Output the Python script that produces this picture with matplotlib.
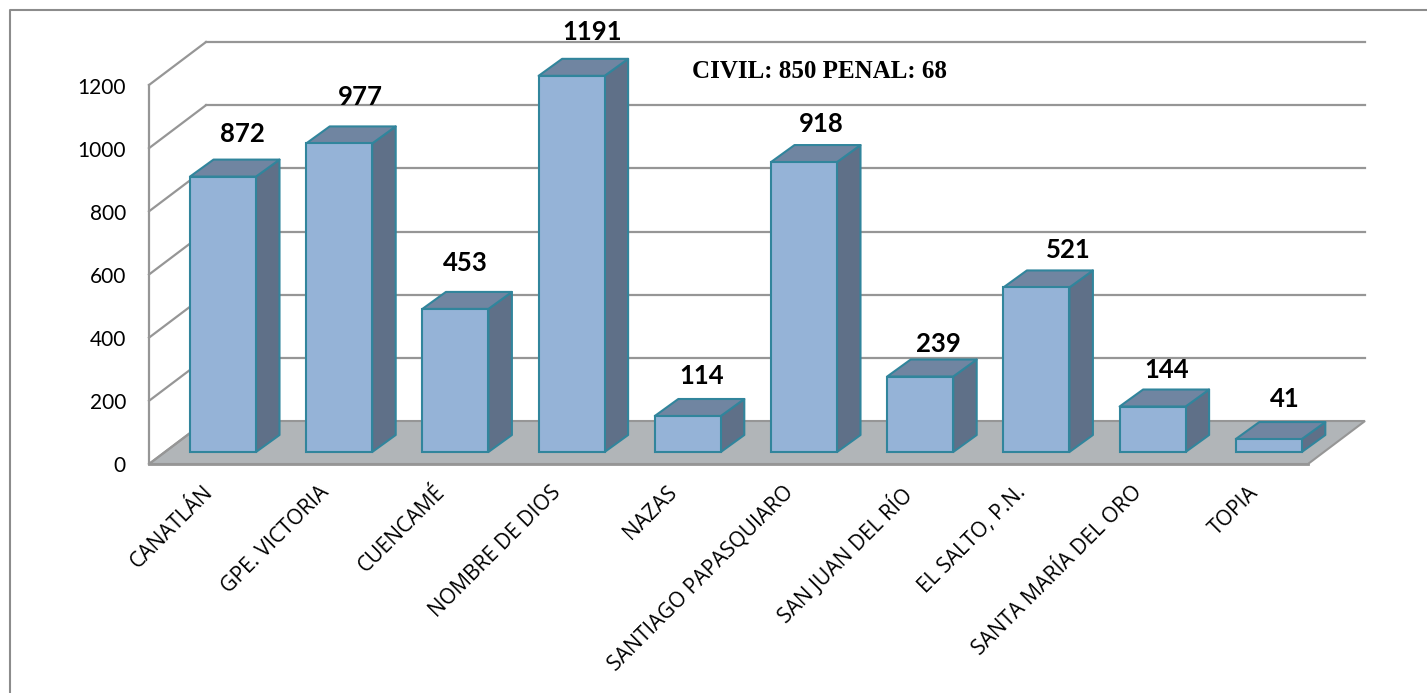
import matplotlib
matplotlib.use("Agg")
import matplotlib.pyplot as plt
from matplotlib.patches import Polygon, Rectangle

categories = ["CANATLÁN", "GPE. VICTORIA", "CUENCAMÉ", "NOMBRE DE DIOS", "NAZAS",
              "SANTIAGO PAPASQUIARO", "SAN JUAN DEL RÍO", "EL SALTO, P.N.",
              "SANTA MARÍA DEL ORO", "TOPIA"]
values = [872, 977, 453, 1191, 114, 918, 239, 521, 144, 41]
y_ticks = [0, 200, 400, 600, 800, 1000, 1200]
note = "CIVIL: 850 PENAL: 68"

# value labels were placed by hand in the original, offsets from bar corner
label_dx = [52, 54, 43, 54, 47, 50, 51, 65, 47, 49]
label_dy = [43, 46, 46, 44, 40, 38, 33, 37, 37, 40]

W, H = 1427, 693
PX_PER_UNIT = 379 / 1200
SLOT = 116.2

# offsets of the fake 3d box, in pixels
WALL_DX, WALL_DY = 57, 43
BAR_W = 66
BAR_DX, BAR_DY = 23.5, 17
LEFT, BASE = 149, 464
RIGHT = 1308

FACE = "#95b3d7"
TOP = "#7085a1"
SIDE = "#5f7088"
EDGE = "#31859c"
GRID = "#969696"


def ypx(v):
    return BASE - v * PX_PER_UNIT


fig = plt.figure(figsize=(W / 100, H / 100), dpi=100)
ax = fig.add_axes([0, 0, 1, 1])
ax.set_xlim(0, W)
ax.set_ylim(H, 0)
ax.axis("off")
plt.rcParams["font.family"] = ["Lato", "DejaVu Sans"]

# image is cropped, only the top and left sides of the frame show
ax.plot([9.5, 9.5, W], [H, 10, 10], color="#8c8c8c", lw=1.5)

# floor
ax.add_patch(Polygon([(LEFT, BASE), (LEFT + WALL_DX, BASE - WALL_DY),
                      (RIGHT + WALL_DX, BASE - WALL_DY), (RIGHT, BASE)],
                     fc="#b1b5b8", ec=GRID, lw=1.5, zorder=1))
# grid lines on wall and side
for t in y_ticks:
    y = ypx(t)
    ax.plot([LEFT, LEFT + WALL_DX], [y, y - WALL_DY], color=GRID, lw=1.6, zorder=2)
    if t > 0:
        ax.plot([LEFT + WALL_DX, RIGHT + WALL_DX], [y - WALL_DY, y - WALL_DY],
                color=GRID, lw=1.6, zorder=2)
    ax.text(126, y + 2.5, str(t), ha="right", va="center", fontsize=15, color="black")
ax.plot([LEFT, LEFT], [ypx(0), ypx(1200)], color=GRID, lw=1.6, zorder=2)
ax.plot([LEFT, RIGHT], [BASE, BASE], color=GRID, lw=2, zorder=2)

# bars
for i, (name, v) in enumerate(zip(categories, values)):
    x0 = 190 + i * SLOT
    x1 = x0 + BAR_W
    bottom = BASE - 12
    top = bottom - v * PX_PER_UNIT
    z = 3 + i
    ax.add_patch(Polygon([(x1, bottom), (x1 + BAR_DX, bottom - BAR_DY),
                          (x1 + BAR_DX, top - BAR_DY), (x1, top)],
                         fc=SIDE, ec=EDGE, lw=1.5, zorder=z, joinstyle="round"))
    ax.add_patch(Polygon([(x0, top), (x0 + BAR_DX, top - BAR_DY),
                          (x1 + BAR_DX, top - BAR_DY), (x1, top)],
                         fc=TOP, ec=EDGE, lw=1.5, zorder=z, joinstyle="round"))
    ax.add_patch(Rectangle((x0, top), BAR_W, bottom - top, fc=FACE, ec=EDGE, lw=1.5, zorder=z))
    ax.text(x0 + label_dx[i], top - label_dy[i], str(v), ha="center", va="center", fontsize=18.5,
            fontweight="bold", color="black", zorder=20)
    ax.text(x0 + 12, 482, name, rotation=45, rotation_mode="anchor", ha="right", va="top",
            fontsize=15.2, color="black", family=["Open Sans", "DejaVu Sans"])

ax.text(820, 72, note, ha="center", va="center", fontsize=18, fontweight="bold",
        family=["Liberation Serif", "DejaVu Serif"], color="black", zorder=20)

fig.savefig("out.png", dpi=100)
